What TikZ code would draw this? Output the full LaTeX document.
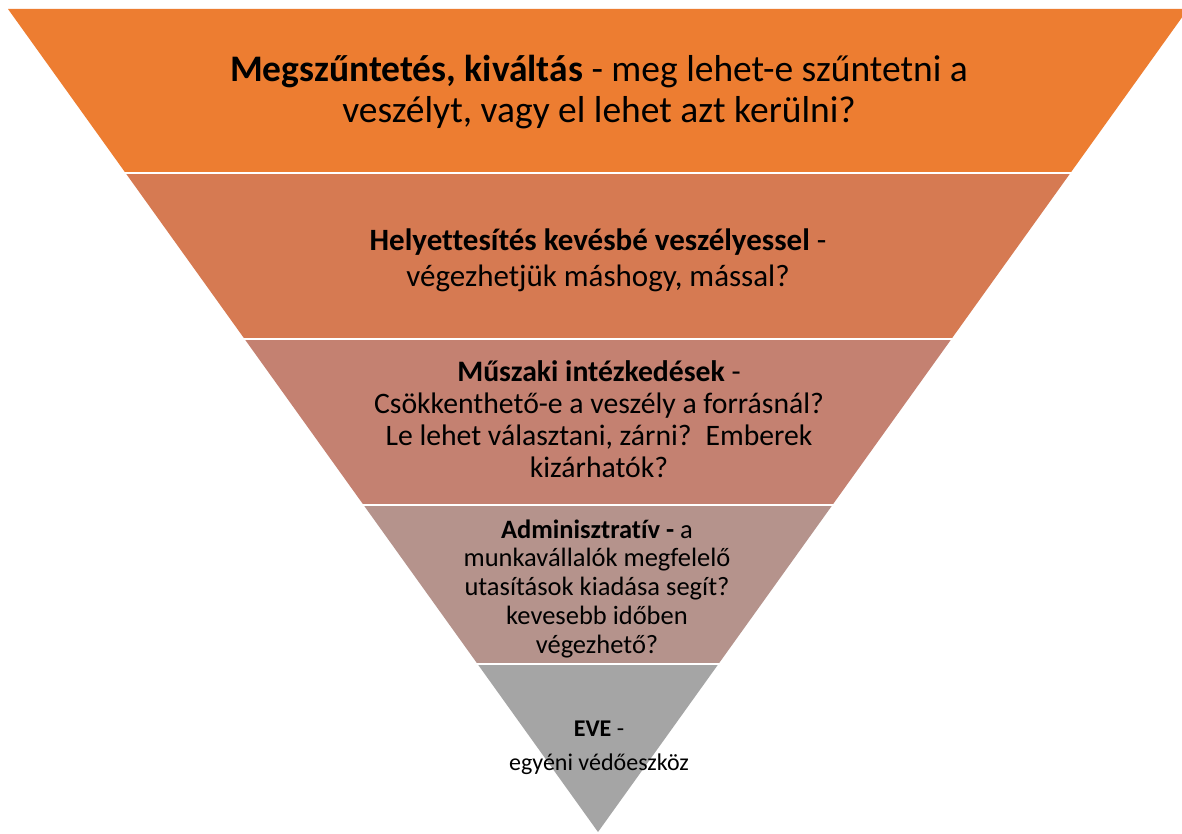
\documentclass[tikz,border=0pt]{standalone}
\usepackage{fontspec}
\setmainfont[Ligatures=NoCommon]{Carlito}
\definecolor{bandA}{HTML}{ED7D31}
\definecolor{bandB}{HTML}{D67A52}
\definecolor{bandC}{HTML}{C48171}
\definecolor{bandD}{HTML}{B5938C}
\definecolor{bandE}{HTML}{A5A5A5}
\begin{document}
\begin{tikzpicture}[x=1pt,y=-1pt,
  bandtext/.style={align=center,inner sep=0pt,anchor=base,text=black}]
\useasboundingbox (0,0) rectangle (1182,834);
\fill[white] (0,0) rectangle (1182,834);
\coordinate (L) at (8,9);
\coordinate (R) at (1188,9);
\coordinate (A) at (598,832);
\foreach \ya/\yb/\col in {9/171.8/bandA,174.8/337/bandB,340/503.5/bandC,506.5/662.7/bandD,665.7/834/bandE}{
  \begin{scope}
    \clip (0,\ya) rectangle (1182,\yb);
    \fill[\col] (L) -- (R) -- (A) -- cycle;
  \end{scope}
}
\node[bandtext,font={\fontsize{37.5}{41}\selectfont}] (t1) at (599,123) {\textbf{Megszűntetés, kiváltás} - meg lehet-e szűntetni a\\ veszélyt, vagy el lehet azt kerülni?};
\node[bandtext,font={\fontsize{31}{35.5}\selectfont}] (t2) at (598,286) {\textbf{Helyettesítés kevésbé veszélyessel} -\\ végezhetjük máshogy, mással?};
\node[bandtext,font={\fontsize{29.7}{32}\selectfont}] (t3) at (599,477) {\textbf{Műszaki intézkedések} -\\ Csökkenthető-e a veszély a forrásnál?\\ Le lehet választani, zárni?\, Emberek\\ kizárhatók?};
\node[bandtext,font={\fontsize{26.5}{28.7}\selectfont}] (t4) at (597,653) {\textbf{Adminisztratív -} a\\ munkavállalók megfelelő\\ utasítások kiadása segít?\\ kevesebb időben\\ végezhető?};
\node[bandtext,font={\fontsize{24}{34}\selectfont}] (t5) at (599,770) {\textbf{EVE} -\\ egyéni védőeszköz};
\end{tikzpicture}
\end{document}
